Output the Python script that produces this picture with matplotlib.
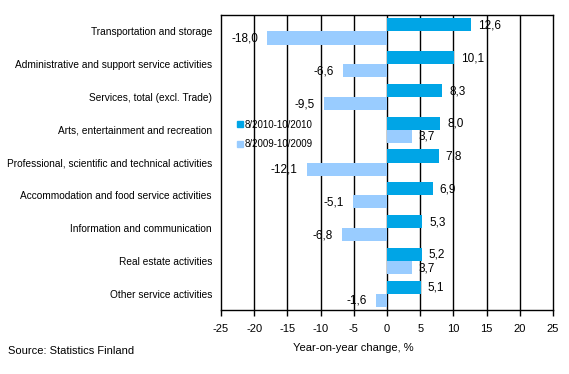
import matplotlib
matplotlib.use("Agg")
import matplotlib.pyplot as plt
from matplotlib.lines import Line2D

plt.rcParams['font.family'] = ['Liberation Sans', 'DejaVu Sans']

categories = [
    "Transportation and storage",
    "Administrative and support service activities",
    "Services, total (excl. Trade)",
    "Arts, entertainment and recreation",
    "Professional, scientific and technical activities",
    "Accommodation and food service activities",
    "Information and communication",
    "Real estate activities",
    "Other service activities",
]
series_2010 = [12.6, 10.1, 8.3, 8.0, 7.8, 6.9, 5.3, 5.2, 5.1]
series_2009 = [-18.0, -6.6, -9.5, 3.7, -12.1, -5.1, -6.8, 3.7, -1.6]
label_2010 = "8/2010-10/2010"
label_2009 = "8/2009-10/2009"
xticks = [-25, -20, -15, -10, -5, 0, 5, 10, 15, 20, 25]

c_dark = "#00A5E6"
c_light = "#99CCFF"

fig = plt.figure(figsize=(5.69, 3.74), dpi=100)
ax = fig.add_axes([221/569, 1-310/374, (553-221)/569, (310-15)/374])

y = list(range(len(categories)))
h = 0.4
ax.set_axisbelow(True)
for xv in xticks[1:-1]:
    ax.axvline(xv, color="black", lw=1.0, zorder=0)

b1 = ax.barh([i - h/2 for i in y], series_2010, height=h, color=c_dark, zorder=2)
b2 = ax.barh([i + h/2 for i in y], series_2009, height=h, color=c_light, zorder=2)

def fmt(v):
    return f"{v:.1f}".replace(".", ",")

for bars, vals in ((b1, series_2010), (b2, series_2009)):
    for rect, v in zip(bars, vals):
        yc = rect.get_y() + rect.get_height()/2
        if v >= 0:
            ax.annotate(fmt(v), (v, yc), xytext=(5, -0.5), textcoords="offset points",
                        ha="left", va="center", fontsize=8.5, zorder=3)
        else:
            ax.annotate(fmt(v), (v, yc), xytext=(-6.5, -0.5), textcoords="offset points",
                        ha="right", va="center", fontsize=8.5, zorder=3)

ax.set_xlim(-25, 25)
ax.set_ylim(len(categories) - 0.5, -0.5)
ax.set_xticks(xticks)
ax.set_xticklabels([str(t) for t in xticks], fontsize=8)
ax.set_yticks(y)
ax.set_yticklabels(categories, fontsize=7.3)
ax.tick_params(axis="y", length=0, pad=6.5)
ax.tick_params(axis="x", direction="out", length=4, width=1, pad=6)
for s in ax.spines.values():
    s.set_color("black")
    s.set_linewidth(1.0)

ax.set_xlabel("Year-on-year change, %", fontsize=8)
ax.xaxis.set_label_coords(0.398, -0.112)

handles = [Line2D([], [], marker="s", ls="", color=c_dark, markersize=5),
           Line2D([], [], marker="s", ls="", color=c_light, markersize=5)]
ax.legend(handles, [label_2010, label_2009], loc="upper left",
          bbox_to_anchor=(0.047, 0.645), frameon=False, fontsize=7,
          handlelength=0.6, handletextpad=0.2, labelspacing=0.95,
          borderaxespad=0, borderpad=0)

fig.text(8/569, 1-351/374, "Source: Statistics Finland", fontsize=8, va="center", ha="left")

fig.savefig("out.png", dpi=100)
